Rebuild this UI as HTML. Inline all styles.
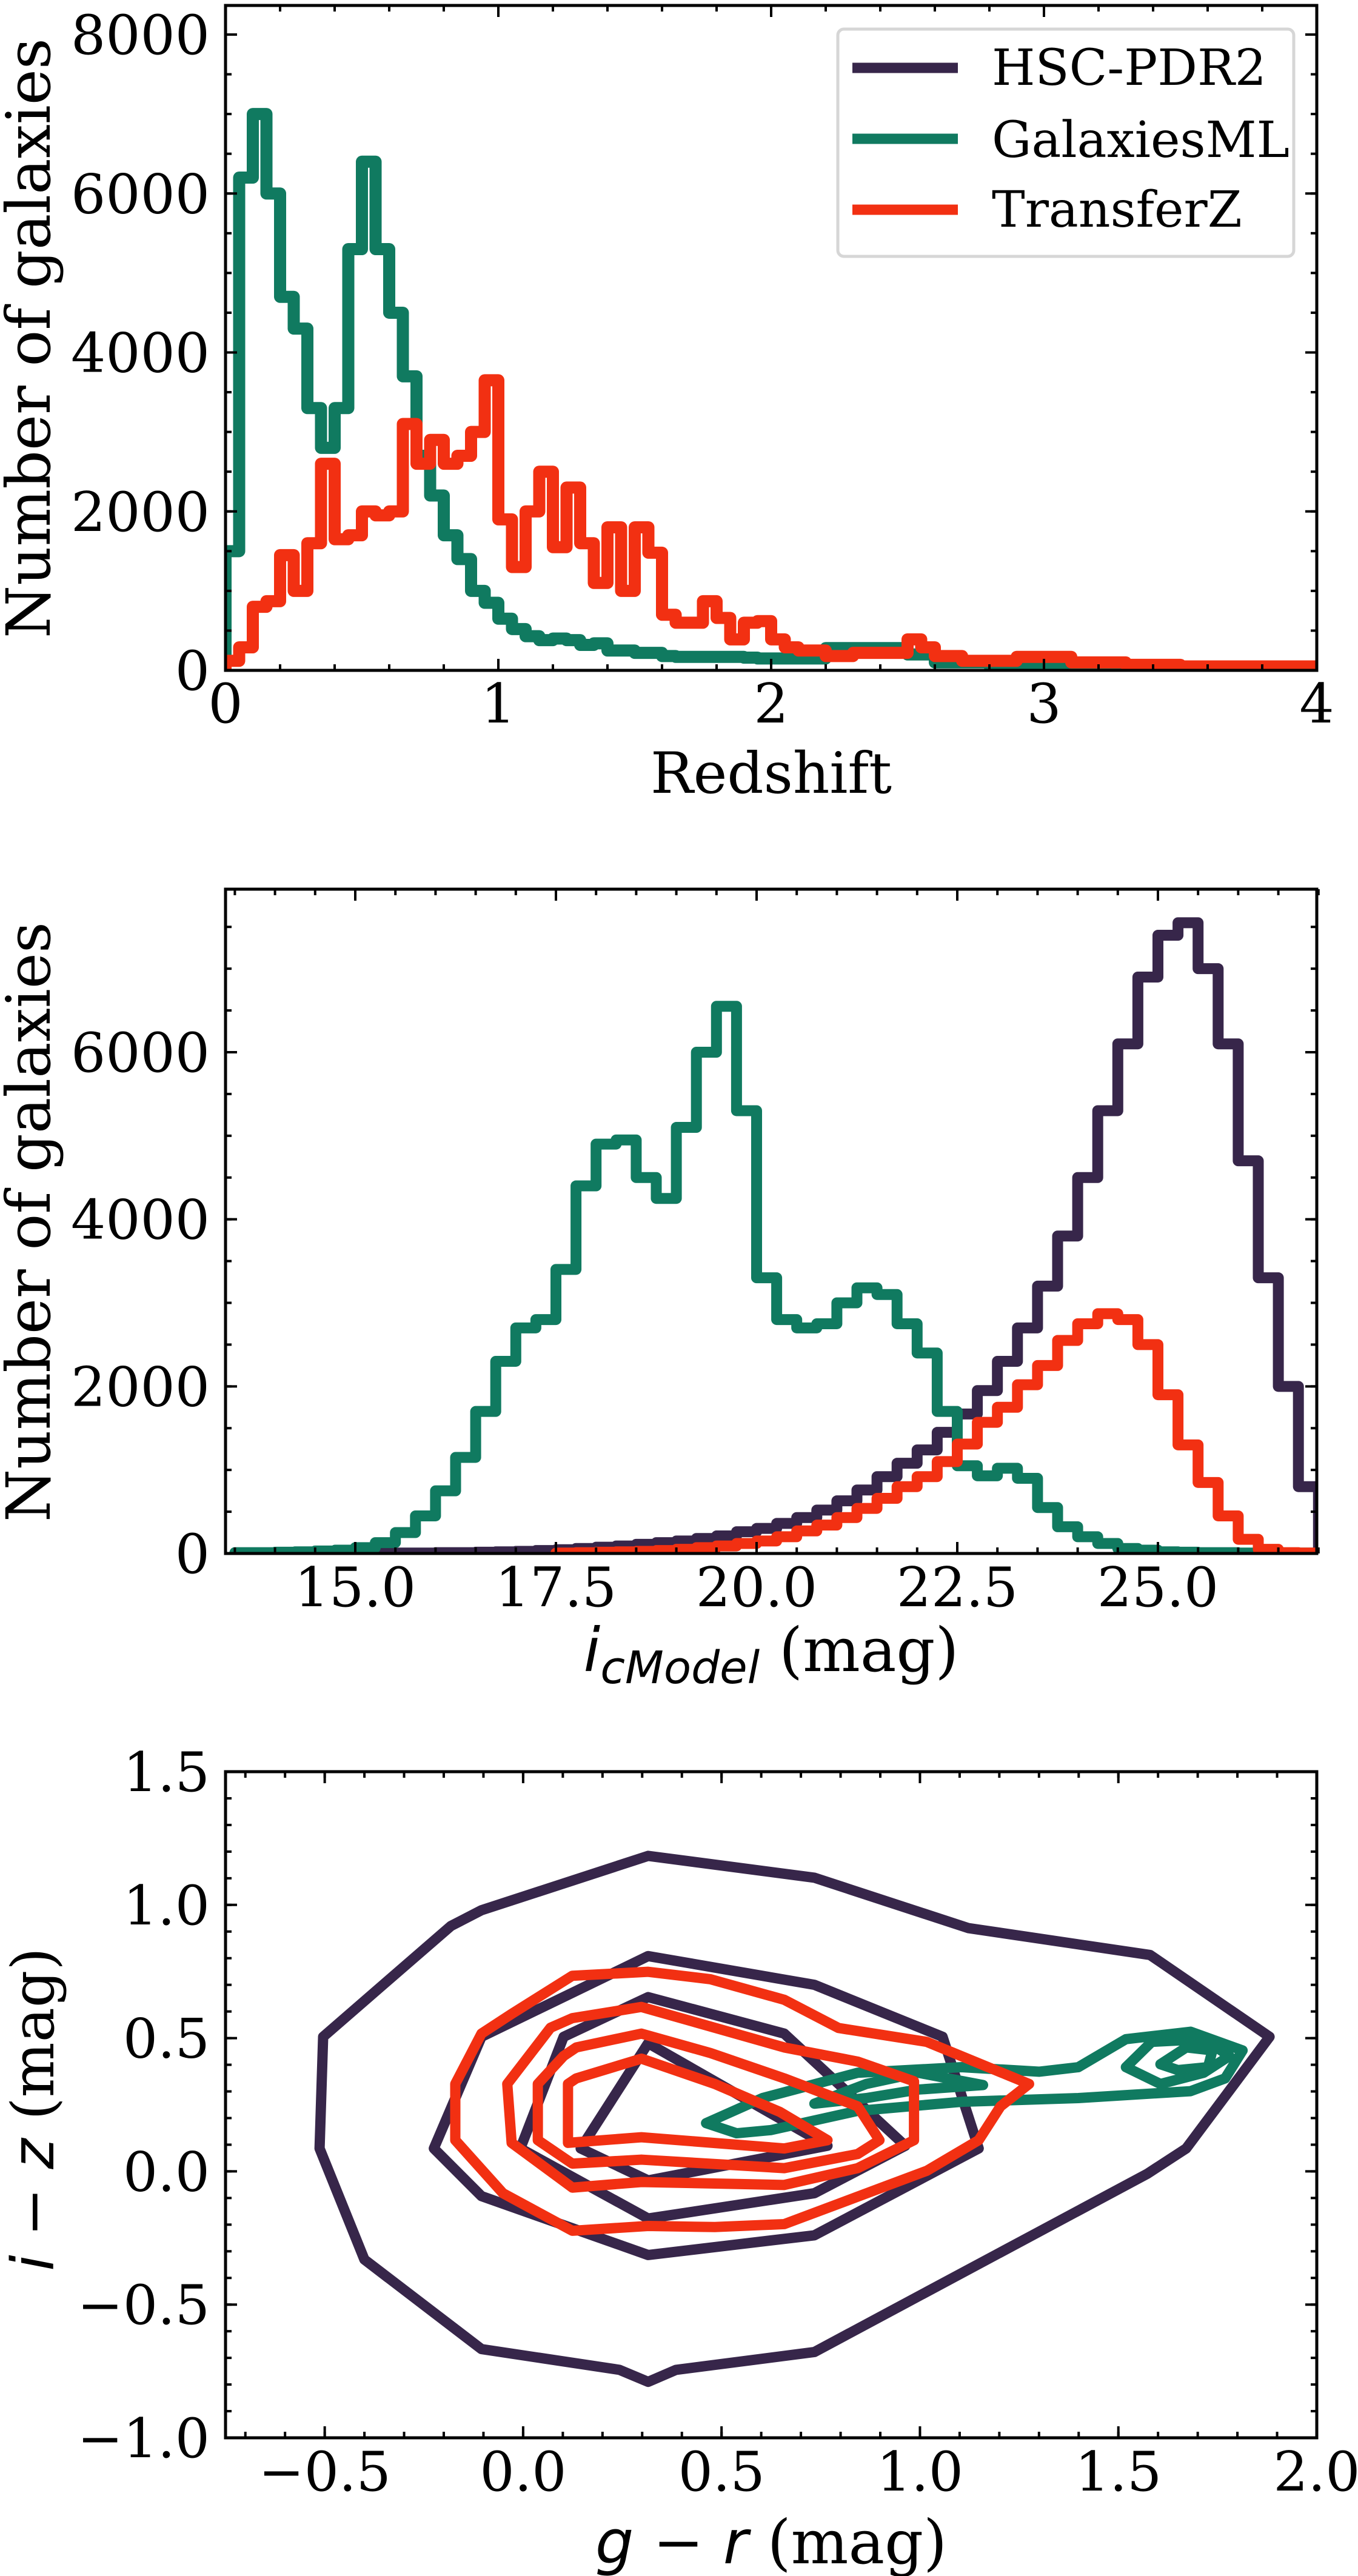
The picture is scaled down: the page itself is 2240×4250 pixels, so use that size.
<!DOCTYPE html>
<html><head><meta charset="utf-8"><style>
html,body{margin:0;padding:0;background:#fff;}
svg{display:block;}
text{font-family:"DejaVu Serif","Liberation Serif",serif;fill:#000;}
</style></head>
<body>
<svg id="fig" xmlns="http://www.w3.org/2000/svg" width="2240" height="4250" viewBox="0 0 2240 4250">
<defs>
<clipPath id="c1"><rect x="372" y="9" width="1800" height="1097"/></clipPath>
<clipPath id="c2"><rect x="372" y="1467" width="1800" height="1096"/></clipPath>
<clipPath id="c3"><rect x="372" y="2923" width="1800" height="1099"/></clipPath>
</defs>
<g id="p1"></g>
<g id="p2"></g>
<g id="p3"></g>
<g>
<rect x="1382" y="48" width="752" height="375" rx="10" fill="#fff" stroke="#d6d6d6" stroke-width="5"/>
<line x1="1406" y1="112" x2="1580" y2="112" stroke="#37264a" stroke-width="17"/>
<line x1="1406" y1="229" x2="1580" y2="229" stroke="#107a60" stroke-width="17"/>
<line x1="1406" y1="346" x2="1580" y2="346" stroke="#f23012" stroke-width="17"/>
<text x="1636" y="140" font-size="82">HSC-PDR2</text>
<text x="1636" y="259" font-size="82">GalaxiesML</text>
<text x="1636" y="374" font-size="82">TransferZ</text>
</g>
</svg>
<script>
// ---- Panel 1 data (redshift, bin width 0.05 from 0 to 4) ----
const zStart = 0, zWidth = 0.05;
const zGalaxiesML = [1500,6200,7000,6000,4700,4300,3300,2800,3300,5300,6400,5300,4500,3700,2700,2200,1700,1400,1000,850,
 650,520,430,380,400,380,320,340,250,250, 220,220,180,170,170,170,170,170,160,150,
 150,150,150,150,280,280,280,280,280,280, 200,200,100,100,100,100,60,60,60,60,
 40,40,40,40,40,40,40,40,40,40, 25,25,25,25,25,25,25,25,25,25];
const zTransferZ = [120,290,800,870,1450,1000,1600,2600,1650,1700,2000,1950,2000,3100,2600,2900,2600,2700,3000,3650,
 1900,1300,2000,2500,1550,2300,1600,1100,1800,1000, 1800,1480,700,600,600,870,660,390,600,620,
 390,290,250,250,180,180,220,220,220,220, 390,290,180,180,120,120,120,120,170,170,
 170,170,100,100,100,100,70,70,70,70, 50,50,50,50,50,50,50,50,50,50];
const zXTicks = [0,1,2,3,4];
const zYTicks = [0,2000,4000,6000,8000];

// ---- Panel 2 data (i mag, bin width 0.25) ----
const mStart = 13.5, mWidth = 0.25;
const mHSC = [0,0,0,0,0,0, 0,0,5,5, 10,10,15,20, 25,35,45,60, 75,90,110,130, 150,180,210,260, 300,360,430,520,
 630,760,920,1080, 1240,1450,1670,1950, 2300,2700,3200,3800, 4500,5300,6100,6900, 7400,7550,7000,6100, 4700,3300,2000,800];
const mGalaxiesML = [10,10,15,20,30,40, 70,130,250,450, 750,1150,1700,2300, 2700,2800,3400,4400, 4900,4950,4500,4250,
 5100,6000,6550,5300, 3300,2800,2700,2750, 3000,3180,3100,2750, 2400,1700,1050,930, 1020,900,550,320, 200,120,60,40,
 20,15,10,10,5,5,5,5];
const mTzStart = 17.5;
const mTransferZ = [5,10, 15,20,25,35, 50,70,90,120, 150,200,270,340,
 430,540,660,800, 920,1100,1310,1570, 1750,2020,2250,2550, 2750,2870,2800,2500, 1900,1300,850,450, 170,50,10,5];
const mXTicks = [15.0,17.5,20.0,22.5,25.0];
const mYTicks = [0,2000,4000,6000];

// ---- Panel 3 data (contours, g-r vs i-z) ----
const hscContour1 = [[0.315,1.184],[0.734,1.102],[1.122,0.913],[1.580,0.812],[1.881,0.505],[1.671,0.086],[1.573,-0.009],[0.734,-0.678],[0.385,-0.745],[0.315,-0.790],[0.243,-0.745],[-0.105,-0.667],[-0.400,-0.331],[-0.513,0.086],[-0.504,0.505],[-0.182,0.921],[-0.105,0.980]];
const hscContour2 = [[0.315,0.808],[0.734,0.700],[1.057,0.505],[1.148,0.086],[0.734,-0.240],[0.315,-0.314],[-0.105,-0.093],[-0.225,0.086],[-0.105,0.505]];
const hscContour3 = [[0.315,0.654],[0.658,0.517],[0.963,0.096],[0.734,-0.082],[0.315,-0.177],[-0.007,0.086],[0.102,0.505]];
const hscContour4 = [[0.315,0.481],[0.767,0.096],[0.315,-0.034],[0.145,0.086]];
const gmlContour1 = [[0.461,0.181],[0.603,0.275],[0.843,0.370],[1.105,0.391],[1.301,0.374],[1.399,0.391],[1.519,0.496],[1.682,0.524],[1.813,0.454],[1.769,0.349],[1.682,0.301],[1.399,0.275],[1.105,0.261],[0.843,0.227],[0.625,0.155],[0.538,0.143]];
const gmlContour2 = [[0.734,0.254],[0.865,0.328],[0.996,0.370],[1.159,0.324],[0.996,0.307],[0.865,0.275]];
const gmlContour3 = [[1.519,0.391],[1.584,0.486],[1.715,0.496],[1.780,0.433],[1.715,0.370],[1.606,0.328]];
const gmlContour4 = [[1.606,0.402],[1.671,0.465],[1.737,0.454],[1.726,0.391],[1.650,0.380]];
const tzContour1 = [[0.124,0.734],[0.315,0.749],[0.472,0.721],[0.658,0.644],[0.795,0.538],[1.017,0.486],[1.275,0.328],[1.203,0.244],[1.148,0.117],[1.017,0.002],[0.658,-0.198],[0.483,-0.209],[0.315,-0.205],[0.124,-0.223],[-0.051,-0.082],[-0.171,0.117],[-0.171,0.328],[-0.105,0.517],[-0.029,0.591]];
const tzContour2 = [[0.124,0.575],[0.298,0.617],[0.658,0.465],[0.843,0.412],[0.985,0.338],[0.985,0.117],[0.843,0.012],[0.658,-0.051],[0.298,-0.040],[0.124,-0.061],[-0.029,0.107],[-0.040,0.328],[0.069,0.539]];
const tzContour3 = [[0.134,0.465],[0.298,0.517],[0.472,0.444],[0.658,0.349],[0.843,0.244],[0.898,0.117],[0.843,0.065],[0.658,0.012],[0.298,0.044],[0.124,0.029],[0.037,0.117],[0.037,0.328],[0.102,0.433]];
const tzContour4 = [[0.134,0.349],[0.298,0.423],[0.483,0.328],[0.647,0.223],[0.767,0.117],[0.658,0.086],[0.298,0.128],[0.113,0.107],[0.113,0.328]];
const cXTicks = [-0.5,0.0,0.5,1.0,1.5,2.0];
const cYTicks = [-1.0,-0.5,0.0,0.5,1.0,1.5];

const NS = "http://www.w3.org/2000/svg";
const PURPLE = "#37264a", GREEN = "#107a60", RED = "#f23012";
function mk(tag, attrs, parent) {
  const e = document.createElementNS(NS, tag);
  for (const k in attrs) e.setAttribute(k, attrs[k]);
  parent.appendChild(e);
  return e;
}
function scale(d0, d1, p0, p1) { return v => p0 + (v - d0) / (d1 - d0) * (p1 - p0); }

function drawAxes(g, box, sx, sy, xMaj, xMinor, yMaj, yMinor, xFmt, yFmt, xLabY) {
  const L = box.x0, R = box.x1, T = box.y0, B = box.y1;
  const tk = mk("g", {stroke: "#000", "stroke-width": 4}, g);
  
  
  xMinor.forEach(v => { const x = sx(v); mk("line", {x1: x, y1: B, x2: x, y2: B - 10}, tk); mk("line", {x1: x, y1: T, x2: x, y2: T + 10}, tk); });
  yMinor.forEach(v => { const y = sy(v); mk("line", {x1: L, y1: y, x2: L + 10, y2: y}, tk); mk("line", {x1: R, y1: y, x2: R - 10, y2: y}, tk); });
  xMaj.forEach(v => { const x = sx(v); mk("line", {x1: x, y1: B, x2: x, y2: B - 19}, tk); mk("line", {x1: x, y1: T, x2: x, y2: T + 19}, tk); });
  yMaj.forEach(v => { const y = sy(v); mk("line", {x1: L, y1: y, x2: L + 19, y2: y}, tk); mk("line", {x1: R, y1: y, x2: R - 19, y2: y}, tk); });
  const fr = mk("rect", {x: L, y: T, width: R - L, height: B - T, fill: "none", stroke: "#000", "stroke-width": 5}, g);
  
  
  xMaj.forEach(v => {
    const t = mk("text", {x: sx(v), y: xLabY, "font-size": 90, "text-anchor": "middle"}, g);
    
    
    t.textContent = xFmt(v);
  });
  yMaj.forEach(v => {
    const t = mk("text", {x: 346, y: sy(v) + 32, "font-size": 90, "text-anchor": "end"}, g);
    
    
    t.textContent = yFmt(v);
  });
}
function range(a, b, s) { const r = []; for (let v = a; v <= b + 1e-9; v += s) r.push(+v.toFixed(6)); return r; }
function stepPath(start, w, vals, sx, sy) {
  let d = "M" + sx(start) + "," + sy(0);
  vals.forEach((v, i) => { d += " L" + sx(start + i * w) + "," + sy(v) + " L" + sx(start + (i + 1) * w) + "," + sy(v); });
  d += " L" + sx(start + vals.length * w) + "," + sy(0);
  return d;
}
function fmt(v) { return v < 0 ? "\u2212" + Math.abs(v).toFixed(1) : v.toFixed(1); }

// Panel 1
(function () {
  const g = document.getElementById("p1");
  const box = {x0: 372, x1: 2172, y0: 9, y1: 1106};
  const sx = scale(0, 4, box.x0, box.x1), sy = scale(0, 8000, 1106, 57);
  const cg = mk("g", {"clip-path": "url(#c1)", fill: "none", "stroke-linejoin": "round", "stroke-linecap": "round"}, g);
  const pg = mk("path", {d: stepPath(zStart, zWidth, zGalaxiesML, sx, sy), stroke: GREEN, "stroke-width": 20}, cg);
  
  
  const pr = mk("path", {d: stepPath(zStart, zWidth, zTransferZ, sx, sy), stroke: RED, "stroke-width": 20}, cg);
  
  
  drawAxes(g, box, sx, sy, zXTicks, range(0, 4, 0.2), zYTicks, range(0, 8000, 500), v => String(v), v => String(v), 1192);
  const xl = mk("text", {x: 1272, y: 1308, "font-size": 94, "text-anchor": "middle"}, g);
  
  
  xl.textContent = "Redshift";
  const yl = mk("text", {x: 0, y: 0, "font-size": 100, "text-anchor": "middle", transform: "translate(82,558) rotate(-90)", textLength: 990, lengthAdjust: "spacingAndGlyphs"}, g);
  
  
  yl.textContent = "Number of galaxies";
})();

// Panel 2
(function () {
  const g = document.getElementById("p2");
  const box = {x0: 372, x1: 2172, y0: 1467, y1: 2563};
  const sx = scale(15, 25, 586, 1910), sy = scale(0, 6000, 2563, 1736);
  const cg = mk("g", {"clip-path": "url(#c2)", fill: "none", "stroke-linejoin": "round", "stroke-linecap": "round"}, g);
  const ph = mk("path", {d: stepPath(mStart, mWidth, mHSC, sx, sy), stroke: PURPLE, "stroke-width": 18}, cg);
  
  
  const pg = mk("path", {d: stepPath(mStart, mWidth, mGalaxiesML, sx, sy), stroke: GREEN, "stroke-width": 18}, cg);
  
  
  const pr = mk("path", {d: stepPath(mTzStart, mWidth, mTransferZ, sx, sy), stroke: RED, "stroke-width": 18}, cg);
  
  
  drawAxes(g, box, sx, sy, mXTicks, range(13.5, 27, 0.5), mYTicks, range(0, 7500, 500), v => v.toFixed(1), v => String(v), 2650);
  const xl = mk("text", {x: 1272, y: 2757, "font-size": 100, "text-anchor": "middle"}, g);
  
  
  xl.innerHTML = '<tspan font-family="DejaVu Sans" font-style="italic">i</tspan><tspan font-family="DejaVu Sans" font-style="italic" font-size="74" dy="20">cModel</tspan><tspan dy="-20"> (mag)</tspan>';
  const yl = mk("text", {x: 0, y: 0, "font-size": 100, "text-anchor": "middle", transform: "translate(82,2016) rotate(-90)", textLength: 990, lengthAdjust: "spacingAndGlyphs"}, g);
  
  
  yl.textContent = "Number of galaxies";
})();

// Panel 3
(function () {
  const g = document.getElementById("p3");
  const box = {x0: 372, x1: 2172, y0: 2923, y1: 4022};
  const sx = scale(-0.75, 2.0, 372, 2172), sy = scale(-1.0, 1.5, 4022, 2923);
  const cg = mk("g", {"clip-path": "url(#c3)", fill: "none", "stroke-linejoin": "round", "stroke-linecap": "round"}, g);
  function poly(pts, color, name) {
    const p = mk("polygon", {points: pts.map(p => sx(p[0]) + "," + sy(p[1])).join(" "), stroke: color, "stroke-width": 17}, cg);
    
    
  }
  poly(hscContour1, PURPLE, 'hsc-contour-1');
  poly(hscContour2, PURPLE, 'hsc-contour-2');
  poly(hscContour3, PURPLE, 'hsc-contour-3');
  poly(hscContour4, PURPLE, 'hsc-contour-4');
  poly(gmlContour1, GREEN, 'galaxiesml-contour-1');
  poly(gmlContour2, GREEN, 'galaxiesml-contour-2');
  poly(gmlContour3, GREEN, 'galaxiesml-contour-3');
  poly(gmlContour4, GREEN, 'galaxiesml-contour-4');
  poly(tzContour1, RED, 'transferz-contour-1');
  poly(tzContour2, RED, 'transferz-contour-2');
  poly(tzContour3, RED, 'transferz-contour-3');
  poly(tzContour4, RED, 'transferz-contour-4');
  drawAxes(g, box, sx, sy, cXTicks, range(-0.7, 2.0, 0.1), cYTicks, range(-1.0, 1.5, 0.1), fmt, fmt, 4109);
  const xl = mk("text", {x: 1272, y: 4229, "font-size": 100, "text-anchor": "middle"}, g);
  
  
  xl.innerHTML = '<tspan font-family="DejaVu Sans" font-style="italic">g</tspan> \u2212 <tspan font-family="DejaVu Sans" font-style="italic">r</tspan> (mag)';
  const yl = mk("text", {x: 0, y: 0, "font-size": 96, "text-anchor": "middle", transform: "translate(88,3480) rotate(-90)"}, g);
  
  
  yl.innerHTML = '<tspan font-family="DejaVu Sans" font-style="italic">i</tspan> \u2212 <tspan font-family="DejaVu Sans" font-style="italic">z</tspan> (mag)';
})();
</script>
</body></html>
